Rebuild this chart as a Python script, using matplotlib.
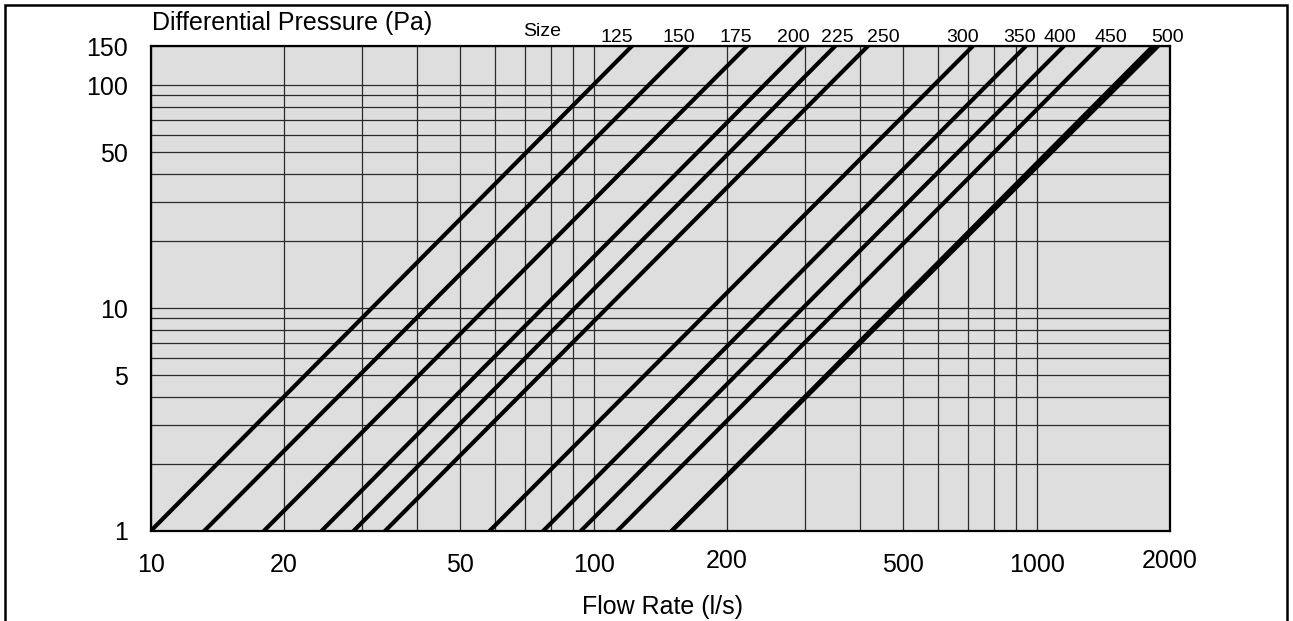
import matplotlib
matplotlib.use('Agg')
import matplotlib.pyplot as plt
import matplotlib.transforms as mtransforms
from matplotlib.ticker import FixedLocator, NullFormatter
from matplotlib.patches import Rectangle

plt.rcParams['font.family'] = ['Liberation Sans', 'DejaVu Sans']

# damper sizes and the flow (l/s) each line has at 1 Pa and at 150 Pa
sizes = ['125', '150', '175', '200', '225', '250', '300', '350', '400', '450', '500']
q_at_1pa = [10, 13.2, 18.0, 24.3, 28.7, 33.8, 58.2, 76.9, 93.5, 113, 150]
q_at_150pa = [122, 163, 222, 297, 351, 416, 718, 946, 1152, 1390, 1832]
# the 500 line is drawn twice, the second trace slightly flatter
q_500_second = [150, 1880]
p_range = [1, 150]

# where the size labels sit along the top (flow, l/s)
label_q = [112.9, 155.8, 209.5, 281.8, 354.2, 449.8, 681.8, 917, 1128.7, 1471.5, 1979]

x_ticks = [10, 20, 50, 100, 200, 500, 1000, 2000]
y_ticks = [1, 5, 10, 50, 100, 150]
x_grid = [10, 20, 30, 40, 50, 60, 70, 80, 90, 100, 200, 300, 400, 500, 600, 700, 800, 900, 1000]
y_grid = [1, 2, 3, 4, 5, 6, 7, 8, 9, 10, 20, 30, 40, 50, 60, 70, 80, 90, 100]

W, H = 1293, 621
fig = plt.figure(figsize=(W / 100, H / 100), dpi=100)
ax = fig.add_axes([150.7 / W, 1 - 531 / H, (1170 - 150.7) / W, (531 - 46) / H])
ax.set_facecolor('#dedede')
ax.set_xscale('log')
ax.set_yscale('log')
ax.set_xlim(10, 2000)
ax.set_ylim(1, 150)

ax.xaxis.set_major_locator(FixedLocator(x_ticks))
ax.xaxis.set_minor_locator(FixedLocator(x_grid))
ax.yaxis.set_major_locator(FixedLocator(y_ticks))
ax.yaxis.set_minor_locator(FixedLocator(y_grid))
ax.set_xticklabels([str(v) for v in x_ticks])
ax.set_yticklabels([str(v) for v in y_ticks])
ax.xaxis.set_minor_formatter(NullFormatter())
ax.yaxis.set_minor_formatter(NullFormatter())
ax.tick_params(which='both', length=0)
ax.tick_params(axis='x', labelsize=18, pad=16)
ax.tick_params(axis='y', labelsize=18, pad=16.5)
ax.grid(which='both', color='#2a2a2a', lw=0.9)
ax.set_axisbelow(True)
for s in ax.spines.values():
    s.set_linewidth(1.6)

# in the original the 200 and 2000 labels sit a little higher
nudge = mtransforms.ScaledTranslation(0, 4 / 100, fig.dpi_scale_trans)
for lab in ax.get_xticklabels():
    if lab.get_text() in ('200', '2000'):
        lab.set_transform(lab.get_transform() + nudge)

for lo, hi in zip(q_at_1pa, q_at_150pa):
    ax.plot([lo, hi], p_range, color='black', lw=3, solid_capstyle='round')
ax.plot(q_500_second, p_range, color='black', lw=3, solid_capstyle='round')

trans = mtransforms.blended_transform_factory(ax.transData, fig.transFigure)
for q, s in zip(label_q, sizes):
    ax.text(q, 1 - 37 / H, s, transform=trans, ha='center', va='center', fontsize=14)

fig.text(542 / W, 1 - 31 / H, 'Size', ha='center', va='center', fontsize=14)
fig.text(152 / W, 1 - 23 / H, 'Differential Pressure (Pa)', ha='left', va='center', fontsize=18)
fig.text(662 / W, 1 - 607 / H, 'Flow Rate (l/s)', ha='center', va='center', fontsize=18)

# frame round the whole chart, bottom edge is cut off by the picture
fig.add_artist(Rectangle((5 / W, -0.1), (1287 - 5) / W, 1.1 - 5 / H,
                         transform=fig.transFigure, fill=False, lw=1.8, ec='black'))

fig.savefig('out.png', dpi=100)
